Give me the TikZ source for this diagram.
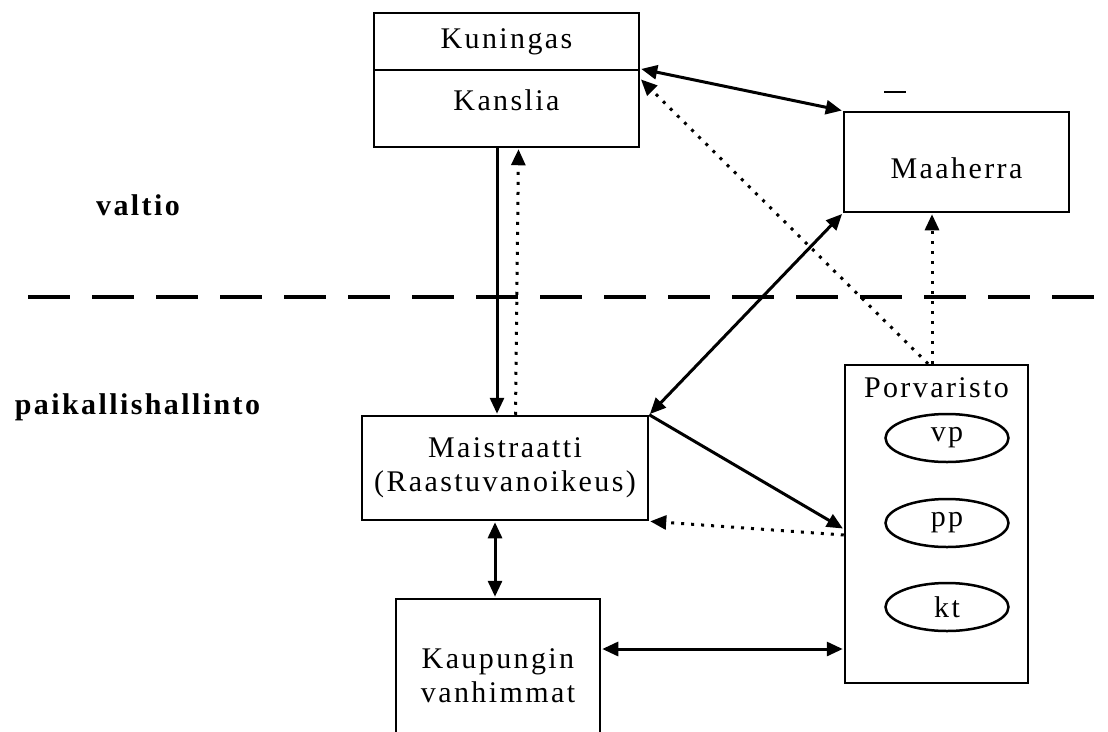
\documentclass[tikz,border=0pt]{standalone}
\usepackage{fontspec}
\setmainfont{Liberation Serif}[LetterSpace=8]
\usetikzlibrary{arrows.meta,shapes.geometric}
\tikzstyle{every node}=[font=\fontsize{30}{34}\selectfont]
\tikzstyle{office}=[draw,line width=2.5pt,rectangle,align=center,inner sep=0pt]
\tikzstyle{estate}=[draw,line width=2.5pt,ellipse,minimum width=123pt,minimum height=48pt,inner sep=0pt]
\tikzstyle{rule}=[line width=3pt,shorten >=1pt,-{Triangle[length=16pt,width=14pt]}]
\tikzstyle{mutual}=[rule,shorten <=1pt,{Triangle[length=16pt,width=14pt]}-{Triangle[length=16pt,width=14pt]}]
\tikzstyle{report}=[line width=3pt,dash pattern=on 3pt off 7pt,shorten >=1pt,-{Triangle[length=16pt,width=14pt]}]

\begin{document}
\begin{tikzpicture}[x=1pt,y=-1pt]
\useasboundingbox (0,0) rectangle (1108,731);
\node[office,minimum width=265pt,minimum height=57pt] (kuningas)    at (506.5,41.5) {Kuningas};
\node[office,minimum width=265pt,minimum height=77pt,text depth=17pt] (kanslia) at (506.5,108.5) {Kanslia};
\node[office,minimum width=225pt,minimum height=100pt,text height=33pt] (maaherra) at (956.5,162) {Maaherra};
\node[office,minimum width=286pt,minimum height=104pt] (maistraatti) at (505,468) {Maistraatti\\(Raastuvanoikeus)};
\node[office,minimum width=183pt,minimum height=318pt] (porvaristo) at (936.5,524) {};
\node (porvtitle) at (936.5,388) {Porvaristo};
\node[estate] (vp) at (947,438) {vp};
\node[estate] (pp) at (947,523) {pp};
\node[estate] (kt) at (947,607) {kt};
\node[office,minimum width=204pt,minimum height=154pt] (kaupunki)   at (498,676) {Kaupungin\\vanhimmat};
\node[font=\fontsize{30}{34}\selectfont\bfseries] (valtio) at (138,205) {valtio};
\node[font=\fontsize{30}{34}\selectfont\bfseries] (paikallinen) at (137.5,407) {paikallishallinto};

\draw[line width=4pt,dash pattern=on 42pt off 22pt] (28,297) -- (1108,297);
\draw[line width=2pt] (884,92) -- (906,92);

\path[mutual] (kanslia.north east) edge (maaherra.north west)
              (maaherra.south west) edge (maistraatti.north east)
              ([xshift=-10pt]maistraatti.south) edge ([xshift=-10pt]maistraatti.south |- kaupunki.north)
              ([yshift=27pt]kaupunki.east) edge ([yshift=27pt]kaupunki.east -| porvaristo.west);
\path[rule]   ([xshift=-9.5pt]kanslia.south) edge ([xshift=-9.5pt]kanslia.south |- maistraatti.north)
              (maistraatti.north east) edge ([yshift=-5pt]porvaristo.west);
\path[report] ([xshift=10.5pt]maistraatti.north) edge ([xshift=12pt]kanslia.south)
              ([yshift=-11pt]porvaristo.west) edge (maistraatti.south east)
              ([xshift=-4.5pt]porvaristo.north) edge ([xshift=-24.5pt]maaherra.south)
              ([xshift=-8.5pt]porvaristo.north) edge ([yshift=-10pt]kanslia.north east);
\end{tikzpicture}
\end{document}
